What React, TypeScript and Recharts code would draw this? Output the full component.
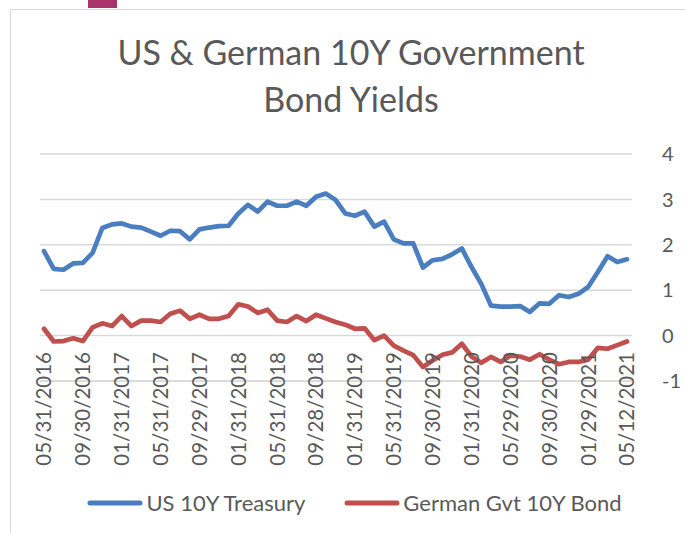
import { LineChart, Line, XAxis, YAxis, CartesianGrid } from 'recharts'

const dates = [
  '05/31/2016', '06/30/2016', '07/29/2016', '08/31/2016', '09/30/2016', '10/31/2016', '11/30/2016', '12/30/2016',
  '01/31/2017', '02/28/2017', '03/31/2017', '04/28/2017', '05/31/2017', '06/30/2017', '07/31/2017', '08/31/2017',
  '09/29/2017', '10/31/2017', '11/30/2017', '12/29/2017',
  '01/31/2018', '02/28/2018', '03/30/2018', '04/30/2018', '05/31/2018', '06/29/2018', '07/31/2018', '08/31/2018',
  '09/28/2018', '10/31/2018', '11/30/2018', '12/31/2018',
  '01/31/2019', '02/28/2019', '03/29/2019', '04/30/2019', '05/31/2019', '06/28/2019', '07/31/2019', '08/30/2019',
  '09/30/2019', '10/31/2019', '11/29/2019', '12/31/2019',
  '01/31/2020', '02/28/2020', '03/31/2020', '04/30/2020', '05/29/2020', '06/30/2020', '07/31/2020', '08/31/2020',
  '09/30/2020', '10/30/2020', '11/30/2020', '12/31/2020',
  '01/29/2021', '02/26/2021', '03/31/2021', '04/30/2021', '05/12/2021',
]

const us10y = [
  1.86, 1.47, 1.45, 1.59, 1.60, 1.82, 2.37, 2.45, 2.47, 2.40, 2.38, 2.29, 2.20, 2.31, 2.30, 2.12, 2.34, 2.38, 2.41, 2.42,
  2.69, 2.88, 2.73, 2.95, 2.86, 2.86, 2.95, 2.86, 3.06, 3.13, 2.99, 2.69, 2.64, 2.73, 2.40, 2.51, 2.12, 2.03, 2.03, 1.50,
  1.66, 1.69, 1.79, 1.92, 1.51, 1.14, 0.66, 0.64, 0.64, 0.65, 0.52, 0.71, 0.70, 0.89, 0.85, 0.92, 1.07, 1.40, 1.75, 1.62, 1.68,
]

const de10y = [
  0.15, -0.13, -0.12, -0.06, -0.12, 0.18, 0.27, 0.21, 0.43, 0.21, 0.33, 0.33, 0.30, 0.48, 0.55, 0.37, 0.46, 0.37, 0.37, 0.43,
  0.69, 0.64, 0.50, 0.57, 0.33, 0.30, 0.43, 0.32, 0.46, 0.38, 0.30, 0.24, 0.15, 0.16, -0.10, 0.00, -0.22, -0.33, -0.43, -0.69,
  -0.55, -0.42, -0.37, -0.18, -0.46, -0.60, -0.47, -0.58, -0.44, -0.46, -0.53, -0.41, -0.53, -0.63, -0.58, -0.58, -0.53, -0.27, -0.29, -0.21, -0.13,
]

const yTicks = [-1, 0, 1, 2, 3, 4]

const BLUE = '#4a7ebf'
const RED = '#c0504d'
const GREY = '#595959'
const FONT = 'Lato, "Open Sans", sans-serif'
const LABEL_TOP = 352

const data = dates.map((d, i) => ({ date: d, us: us10y[i], de: de10y[i] }))

const XTick = ({ x, payload }: any) => (
  <text
    x={x}
    y={LABEL_TOP}
    transform={`rotate(-90, ${x}, ${LABEL_TOP})`}
    textAnchor="end"
    dy="0.36em"
    fill={GREY}
    fontSize={20.5}
    fontFamily={FONT}
  >
    {payload.value}
  </text>
)

const YTick = ({ x, y, payload }: any) => (
  <text x={x + 22} y={y} dy="0.36em" textAnchor="start" fill={GREY} fontSize={20} fontFamily={FONT}>
    {payload.value}
  </text>
)

const legendItems = [
  { name: 'US 10Y Treasury', color: BLUE },
  { name: 'German Gvt 10Y Bond', color: RED },
]

export default function App() {
  return (
    <div style={{ position: 'absolute', left: 0, top: 0, width: 685, height: 533, overflow: 'hidden', background: '#fff' }}>
      <div style={{ position: 'absolute', left: 88, top: 0, width: 29, height: 8, background: '#a9346b' }} />
      <div
        style={{
          position: 'absolute', left: 10, top: 9, width: 720, height: 560,
          border: '1.5px solid #d9d9d9', boxSizing: 'border-box',
        }}
      />
      <div
        style={{
          position: 'absolute', left: 0, top: 28, width: 702, textAlign: 'center',
          fontFamily: FONT, fontSize: 34, lineHeight: '47px', color: GREY,
        }}
      >
        US &amp; German 10Y Government
        <br />
        Bond Yields
      </div>
      <div style={{ position: 'absolute', left: 0, top: 0 }}>
        <LineChart width={685} height={533} data={data} margin={{ top: 154, right: 0, bottom: 32, left: 40 }}>
          <CartesianGrid vertical={false} stroke="#d9d9d9" strokeWidth={1.5} />
          <XAxis
            dataKey="date"
            interval={3}
            height={120}
            padding={{ left: 4, right: 5 }}
            axisLine={{ stroke: '#d9d9d9', strokeWidth: 1.5 }}
            tickLine={false}
            tick={<XTick />}
          />
          <YAxis
            orientation="right"
            domain={[-1, 4]}
            ticks={yTicks}
            width={53}
            axisLine={false}
            tickLine={false}
            tick={<YTick />}
          />
          <Line dataKey="us" name="US 10Y Treasury" stroke={BLUE} strokeWidth={4.7} dot={false}
            strokeLinejoin="round" strokeLinecap="round" isAnimationActive={false} />
          <Line dataKey="de" name="German Gvt 10Y Bond" stroke={RED} strokeWidth={4.7} dot={false}
            strokeLinejoin="round" strokeLinecap="round" isAnimationActive={false} />
        </LineChart>
      </div>
      <div
        style={{
          position: 'absolute', left: 0, top: 489, width: 709, display: 'flex', justifyContent: 'center',
          gap: 39, fontFamily: FONT, fontSize: 22, lineHeight: '28px', color: GREY,
        }}
      >
        {legendItems.map(item => (
          <div key={item.name} style={{ display: 'flex', alignItems: 'center', gap: 3 }}>
            <svg width={56} height={8}>
              <line x1={3} y1={4} x2={53} y2={4} stroke={item.color} strokeWidth={5} strokeLinecap="round" />
            </svg>
            <span>{item.name}</span>
          </div>
        ))}
      </div>
    </div>
  )
}
